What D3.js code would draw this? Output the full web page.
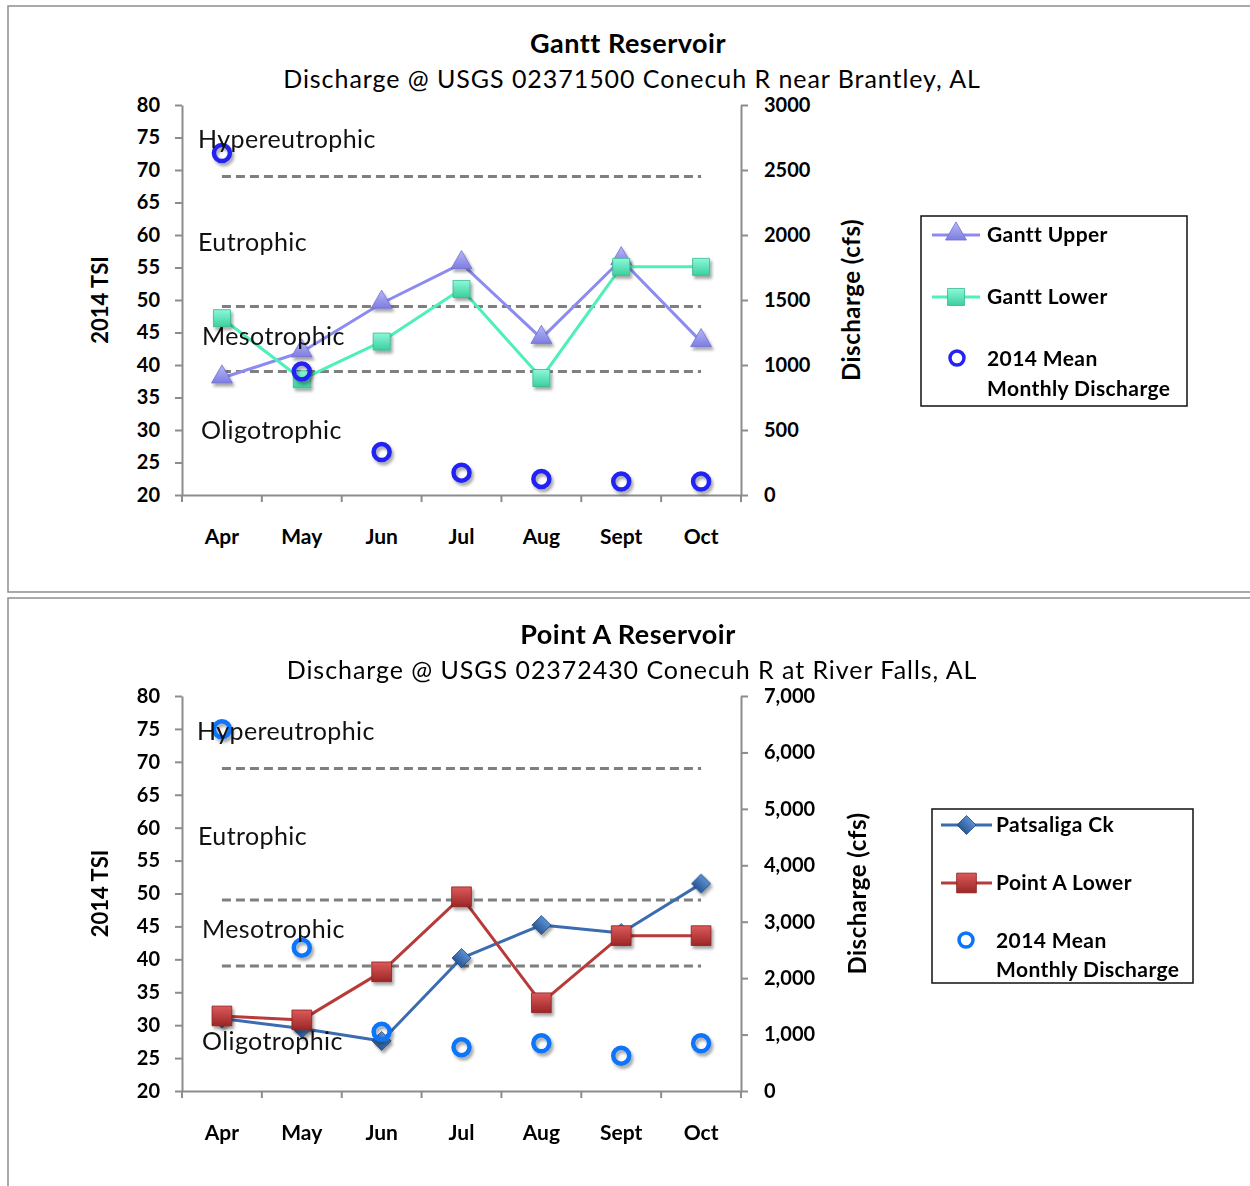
<!DOCTYPE html>
<html>
<head>
<meta charset="utf-8">
<script src="https://cdn.jsdelivr.net/npm/d3@7"></script>
<style>
  body { margin: 0; background: #fff; }
  svg { display: block; font-family: Lato, "Open Sans", sans-serif; }
</style>
</head>
<body>
<svg id="chart" width="1250" height="1186"></svg>
<script>
// ---- data ----
const months = ["Apr", "May", "Jun", "Jul", "Aug", "Sept", "Oct"];

const ganttUpper = [38.0, 42.0, 49.5, 55.6, 44.1, 56.2, 43.6];
const ganttLower = [47.2, 37.8, 43.6, 51.7, 38.0, 55.1, 55.1];
const ganttDischarge = [2630, 950, 330, 172, 123, 103, 103];

const patsaligaCk = [31.0, 29.5, 27.6, 40.2, 45.2, 44.0, 51.5];
const pointALower = [31.4, 30.8, 38.1, 49.5, 33.4, 43.6, 43.6];
const pointADischarge = [6410, 2540, 1050, 775, 845, 625, 845];

const tsiTicks = [20, 25, 30, 35, 40, 45, 50, 55, 60, 65, 70, 75, 80];
const ganttFlowTicks = [0, 500, 1000, 1500, 2000, 2500, 3000];
const pointAFlowTicks = [0, 1000, 2000, 3000, 4000, 5000, 6000, 7000];

// trophic state class boundaries (TSI)
const trophicBounds = [39, 49, 69];
const trophicClasses = ["Hypereutrophic", "Eutrophic", "Mesotrophic", "Oligotrophic"];

// ---- styles ----
const styles = {
  ganttUpper: { line: "#8c8cf0", marker: "triangle", size: 190, g0: "#b8b8fa", g1: "#7d7de0", edge: "#7070d0" },
  ganttLower: { line: "#4ef0b8", marker: "square", size: 290, g0: "#8cf8da", g1: "#3ccf9e", edge: "#36b88c" },
  patsaligaCk: { line: "#3b6caf", marker: "diamond", size: 180, g0: "#5a90d4", g1: "#2a5894", edge: "#234c84" },
  pointALower: { line: "#b83a3a", marker: "square", size: 390, g0: "#dc5a5a", g1: "#9c2626", edge: "#8a2020" }
};

const svg = d3.select("#chart");
const defs = svg.append("defs");

const shadow = defs.append("filter").attr("id", "shadow")
  .attr("x", "-50%").attr("y", "-50%").attr("width", "200%").attr("height", "200%");
shadow.append("feDropShadow").attr("dx", 2).attr("dy", 3).attr("stdDeviation", 1.8)
  .attr("flood-color", "#000").attr("flood-opacity", 0.35);

Object.entries(styles).forEach(([key, s]) => {
  const lg = defs.append("linearGradient").attr("id", "grad-" + key)
    .attr("x1", 0).attr("y1", 0).attr("x2", 0).attr("y2", 1);
  lg.append("stop").attr("offset", "0%").attr("stop-color", s.g0);
  lg.append("stop").attr("offset", "100%").attr("stop-color", s.g1);
});

function markerPath(s) {
  if (s.marker === "triangle") return d3.symbol(d3.symbolTriangle, s.size)();
  return d3.symbol(d3.symbolSquare, s.size)();
}
function markerTransform(s, cx, cy) {
  if (s.marker === "diamond") return `translate(${cx},${cy}) rotate(45)`;
  if (s.marker === "triangle") return `translate(${cx},${cy - 1})`;
  return `translate(${cx},${cy})`;
}

const panels = [
  {
    frame: [8, 6, 1270, 586],
    title: "Gantt Reservoir", titleY: 44,
    subtitle: "Discharge @ USGS 02371500 Conecuh R near Brantley, AL", subtitleY: 79,
    plot: { left: 182, right: 741, top: 105, bottom: 495 },
    flowMax: 3000, flowTicks: ganttFlowTicks, flowFormat: d3.format("d"),
    series: [
      { name: "Gantt Upper", values: ganttUpper, style: styles.ganttUpper, key: "ganttUpper" },
      { name: "Gantt Lower", values: ganttLower, style: styles.ganttLower, key: "ganttLower" }
    ],
    discharge: ganttDischarge, dischargeColor: "#2323f2",
    classLabels: [[198, 74.8], [198, 58.9], [202, 44.5], [201, 30.0]],
    tsiTitleX: 100, flowTitleX: 852,
    legend: { box: [921, 216, 266, 190], x0: 932, x1: 980, tx: 987, rows: [235, 297], cx: 957, cy: 358, t1: 359, t2: 389 }
  },
  {
    frame: [8, 598, 1270, 600],
    title: "Point A Reservoir", titleY: 635,
    subtitle: "Discharge @ USGS 02372430 Conecuh R at River Falls, AL", subtitleY: 670,
    plot: { left: 182, right: 741, top: 696, bottom: 1091 },
    flowMax: 7000, flowTicks: pointAFlowTicks, flowFormat: d3.format(","),
    series: [
      { name: "Patsaliga Ck", values: patsaligaCk, style: styles.patsaligaCk, key: "patsaligaCk" },
      { name: "Point A Lower", values: pointALower, style: styles.pointALower, key: "pointALower" }
    ],
    discharge: pointADischarge, dischargeColor: "#0a74fa",
    classLabels: [[197, 74.6], [198, 58.7], [202, 44.5], [202, 27.6]],
    tsiTitleX: 100, flowTitleX: 858,
    legend: { box: [932, 809, 261, 174], x0: 941, x1: 992, tx: 996, rows: [825, 883], cx: 966, cy: 940, t1: 941, t2: 970 }
  }
];

const AXIS = "#8c8c8c";

function styleAxis(g) {
  g.select(".domain").attr("stroke", AXIS).attr("stroke-width", 2);
  g.selectAll(".tick line").attr("stroke", AXIS).attr("stroke-width", 2);
  g.selectAll(".tick text").attr("fill", "#000").attr("font-size", 20).attr("font-weight", 700)
    .attr("font-family", "Lato, sans-serif");
}

function drawPanel(p) {
  const g = svg.append("g");
  const { left, right, top, bottom } = p.plot;

  g.append("rect")
    .attr("x", p.frame[0]).attr("y", p.frame[1])
    .attr("width", p.frame[2]).attr("height", p.frame[3])
    .attr("fill", "none").attr("stroke", "#8e8e8e").attr("stroke-width", 1.5);

  const x = d3.scaleBand().domain(months).range([left, right]);
  const y = d3.scaleLinear().domain([20, 80]).range([bottom, top]);
  const yR = d3.scaleLinear().domain([0, p.flowMax]).range([bottom, top]);
  const cx = m => x(m) + x.bandwidth() / 2;

  // titles
  const midX = 628;
  g.append("text").attr("x", midX).attr("y", p.titleY).attr("dy", "0.35em")
    .attr("text-anchor", "middle").attr("font-size", 27).attr("font-weight", 700)
    .attr("letter-spacing", 0.5)
    .text(p.title);
  g.append("text").attr("x", midX + 4).attr("y", p.subtitleY).attr("dy", "0.35em")
    .attr("text-anchor", "middle").attr("font-size", 25).attr("letter-spacing", 0.95)
    .text(p.subtitle);

  // left TSI axis
  g.append("g").attr("transform", `translate(${left},0)`)
    .call(d3.axisLeft(y).tickValues(tsiTicks).tickSize(7).tickSizeOuter(0).tickPadding(15))
    .call(styleAxis);

  // right discharge axis
  g.append("g").attr("transform", `translate(${right},0)`)
    .call(d3.axisRight(yR).tickValues(p.flowTicks).tickFormat(p.flowFormat).tickSize(7).tickSizeOuter(0).tickPadding(16))
    .call(styleAxis);

  // month axis: labels centred in bands, tick marks on band edges
  const xa = g.append("g").attr("transform", `translate(0,${bottom})`)
    .call(d3.axisBottom(x).tickSize(0).tickPadding(34))
    .call(styleAxis);
  xa.selectAll(".tick text").attr("font-size", 21);
  xa.selectAll(".edge").data(d3.range(months.length + 1)).join("line")
    .attr("class", "edge")
    .attr("x1", i => left + i * x.step()).attr("x2", i => left + i * x.step())
    .attr("y1", 0).attr("y2", 7)
    .attr("stroke", AXIS).attr("stroke-width", 2);

  // axis titles
  g.append("text")
    .attr("transform", `translate(${p.tsiTitleX},${(top + bottom) / 2}) rotate(-90)`)
    .attr("dy", "0.35em").attr("text-anchor", "middle")
    .attr("font-size", 22).attr("font-weight", 700).text("2014 TSI");
  g.append("text")
    .attr("transform", `translate(${p.flowTitleX},${(top + bottom) / 2}) rotate(-90)`)
    .attr("dy", "0.35em").attr("text-anchor", "middle")
    .attr("font-size", 24).attr("font-weight", 700).attr("letter-spacing", 0.5)
    .text("Discharge (cfs)");

  // trophic class boundaries
  g.selectAll(".bound").data(trophicBounds).join("line")
    .attr("x1", cx(months[0])).attr("x2", cx(months[months.length - 1]))
    .attr("y1", d => y(d)).attr("y2", d => y(d))
    .attr("stroke", "#7f7f7f").attr("stroke-width", 3)
    .attr("stroke-dasharray", "9,5");

  // TSI series
  p.series.forEach(s => {
    const line = d3.line().x((d, i) => cx(months[i])).y(d => y(d));
    g.append("path").datum(s.values)
      .attr("d", line).attr("fill", "none")
      .attr("stroke", s.style.line).attr("stroke-width", 3).attr("stroke-linejoin", "round");
    g.append("g").attr("filter", "url(#shadow)")
      .selectAll("path").data(s.values).join("path")
      .attr("d", markerPath(s.style))
      .attr("transform", (d, i) => markerTransform(s.style, cx(months[i]), y(d)))
      .attr("fill", `url(#grad-${s.key})`)
      .attr("stroke", s.style.edge).attr("stroke-width", 0.8);
  });

  // mean monthly discharge
  g.append("g").attr("filter", "url(#shadow)")
    .selectAll("circle").data(p.discharge).join("circle")
    .attr("cx", (d, i) => cx(months[i])).attr("cy", d => yR(d))
    .attr("r", 8).attr("fill", "none")
    .attr("stroke", p.dischargeColor).attr("stroke-width", 4.5);

  // class labels
  g.selectAll(".cls").data(trophicClasses).join("text")
    .attr("x", (d, i) => p.classLabels[i][0])
    .attr("y", (d, i) => y(p.classLabels[i][1]))
    .attr("dy", "0.35em").attr("font-size", 25).attr("letter-spacing", 0.4).attr("fill", "#111")
    .text(d => d);

  // legend
  const L = p.legend;
  const lg = g.append("g");
  lg.append("rect").attr("x", L.box[0]).attr("y", L.box[1])
    .attr("width", L.box[2]).attr("height", L.box[3])
    .attr("fill", "#fff").attr("stroke", "#111").attr("stroke-width", 1.5);
  p.series.forEach((s, i) => {
    const ry = L.rows[i];
    lg.append("line").attr("x1", L.x0).attr("x2", L.x1).attr("y1", ry).attr("y2", ry)
      .attr("stroke", s.style.line).attr("stroke-width", 3);
    lg.append("path").attr("d", markerPath(s.style))
      .attr("transform", markerTransform(s.style, (L.x0 + L.x1) / 2, ry))
      .attr("fill", `url(#grad-${s.key})`).attr("stroke", s.style.edge).attr("stroke-width", 0.8);
    lg.append("text").attr("x", L.tx).attr("y", ry).attr("dy", "0.35em")
      .attr("font-size", 21).attr("font-weight", 700).attr("letter-spacing", 0.4).text(s.name);
  });
  lg.append("circle").attr("cx", L.cx).attr("cy", L.cy).attr("r", 7)
    .attr("fill", "none").attr("stroke", p.dischargeColor).attr("stroke-width", 3.5);
  lg.append("text").attr("x", L.tx).attr("y", L.t1).attr("dy", "0.35em")
    .attr("font-size", 21).attr("font-weight", 700).attr("letter-spacing", 0.4).text("2014 Mean");
  lg.append("text").attr("x", L.tx).attr("y", L.t2).attr("dy", "0.35em")
    .attr("font-size", 21).attr("font-weight", 700).attr("letter-spacing", 0.4).text("Monthly Discharge");
}

panels.forEach(drawPanel);
</script>
</body>
</html>
